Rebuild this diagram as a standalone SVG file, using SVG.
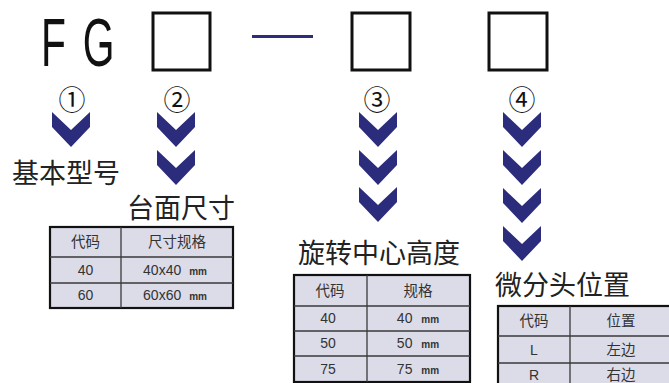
<svg xmlns="http://www.w3.org/2000/svg" xmlns:xlink="http://www.w3.org/1999/xlink" width="669" height="383" viewBox="0 0 669 383">
<style>
.box{fill:#fff;stroke:#111;stroke-width:3}
.chev{fill:#2b2c7c}
.circ{font-family:"Noto Sans CJK SC","DejaVu Sans",sans-serif;font-size:27px;fill:#111;text-anchor:middle}
.lbl{font-family:"Noto Sans CJK SC","Noto Sans",sans-serif;font-size:27px;fill:#222}
.tbl{fill:#dcdce9;stroke:#111;stroke-width:2.2}
.rl{stroke:#3a3a3a;stroke-width:1.3}
.th{font-family:"Noto Sans CJK SC","Liberation Sans",sans-serif;font-size:14.5px;fill:#333;text-anchor:middle}
.td{font-family:"Liberation Sans","Noto Sans CJK SC",sans-serif;font-size:14px;fill:#333;text-anchor:middle}
.mm{font-size:10px;font-weight:bold}
</style>
<defs>
<path id="chev" d="M-19,0 L0,18 L19,0 L19,15 L0,35 L-19,15 Z"/>
</defs>
<rect width="669" height="383" fill="#fff"/>

<g id="model-code">
<text transform="translate(41,66) scale(0.6,1)" font-family="Liberation Sans, sans-serif" font-size="68" letter-spacing="28" fill="#111">FG</text>
<rect class="box" x="153" y="13" width="57" height="57"/>
<line x1="252" y1="36.5" x2="313" y2="36.5" stroke="#2b2c7c" stroke-width="3"/>
<rect class="box" x="352" y="13" width="58" height="57"/>
<rect class="box" x="489" y="13" width="58" height="57"/>
</g>

<g id="connectors">
<g class="chev">
<use xlink:href="#chev" x="71" y="112"/>
<use xlink:href="#chev" x="176" y="112"/>
<use xlink:href="#chev" x="176" y="150"/>
<use xlink:href="#chev" x="378" y="112"/>
<use xlink:href="#chev" x="378" y="150"/>
<use xlink:href="#chev" x="378" y="187"/>
<use xlink:href="#chev" x="522" y="112"/>
<use xlink:href="#chev" x="522" y="150"/>
<use xlink:href="#chev" x="522" y="188"/>
<use xlink:href="#chev" x="522" y="226"/>
</g>
</g>

<g id="item1">
<text class="circ" x="72" y="110">①</text>
<text class="lbl" x="12" y="183">基本型号</text>
</g>

<g id="item2">
<text class="circ" x="177" y="110">②</text>
<text class="lbl" x="127" y="218">台面尺寸</text>
<g id="table2">
<rect class="tbl" x="50" y="227" width="183" height="81"/>
<line class="rl" x1="121" y1="227" x2="121" y2="308"/>
<line class="rl" x1="50" y1="257" x2="233" y2="257"/>
<line class="rl" x1="50" y1="283" x2="233" y2="283"/>
<text class="th" x="85.5" y="247">代码</text>
<text class="th" x="177" y="247">尺寸规格</text>
<text class="td" x="85.5" y="275">40</text>
<text class="td" x="175" y="275">40x40 <tspan class="mm" dx="4">mm</tspan></text>
<text class="td" x="85.5" y="300">60</text>
<text class="td" x="175" y="300">60x60 <tspan class="mm" dx="4">mm</tspan></text>
</g>
</g>

<g id="item3">
<text class="circ" x="377" y="110">③</text>
<text class="lbl" x="298" y="263">旋转中心高度</text>
<g id="table3">
<rect class="tbl" x="294" y="275" width="176" height="107"/>
<line class="rl" x1="367" y1="275" x2="367" y2="382"/>
<line class="rl" x1="294" y1="306" x2="470" y2="306"/>
<line class="rl" x1="294" y1="331" x2="470" y2="331"/>
<line class="rl" x1="294" y1="356" x2="470" y2="356"/>
<text class="th" x="330" y="296">代码</text>
<text class="th" x="418" y="296">规格</text>
<text class="td" x="328" y="323">40</text>
<text class="td" x="418" y="323">40 <tspan class="mm" dx="5">mm</tspan></text>
<text class="td" x="328" y="348">50</text>
<text class="td" x="418" y="348">50 <tspan class="mm" dx="5">mm</tspan></text>
<text class="td" x="328" y="374">75</text>
<text class="td" x="418" y="374">75 <tspan class="mm" dx="5">mm</tspan></text>
</g>
</g>

<g id="item4">
<text class="circ" x="522" y="110">④</text>
<text class="lbl" x="495" y="295">微分头位置</text>
<g id="table4">
<rect class="tbl" x="498" y="306" width="176" height="90"/>
<line class="rl" x1="570" y1="306" x2="570" y2="383"/>
<line class="rl" x1="498" y1="336" x2="674" y2="336"/>
<line class="rl" x1="498" y1="363" x2="674" y2="363"/>
<text class="th" x="534" y="326">代码</text>
<text class="th" x="621" y="326">位置</text>
<text class="td" x="534" y="355">L</text>
<text class="th" x="621" y="355">左边</text>
<text class="td" x="534" y="380">R</text>
<text class="th" x="621" y="380">右边</text>
</g>
</g>
</svg>
